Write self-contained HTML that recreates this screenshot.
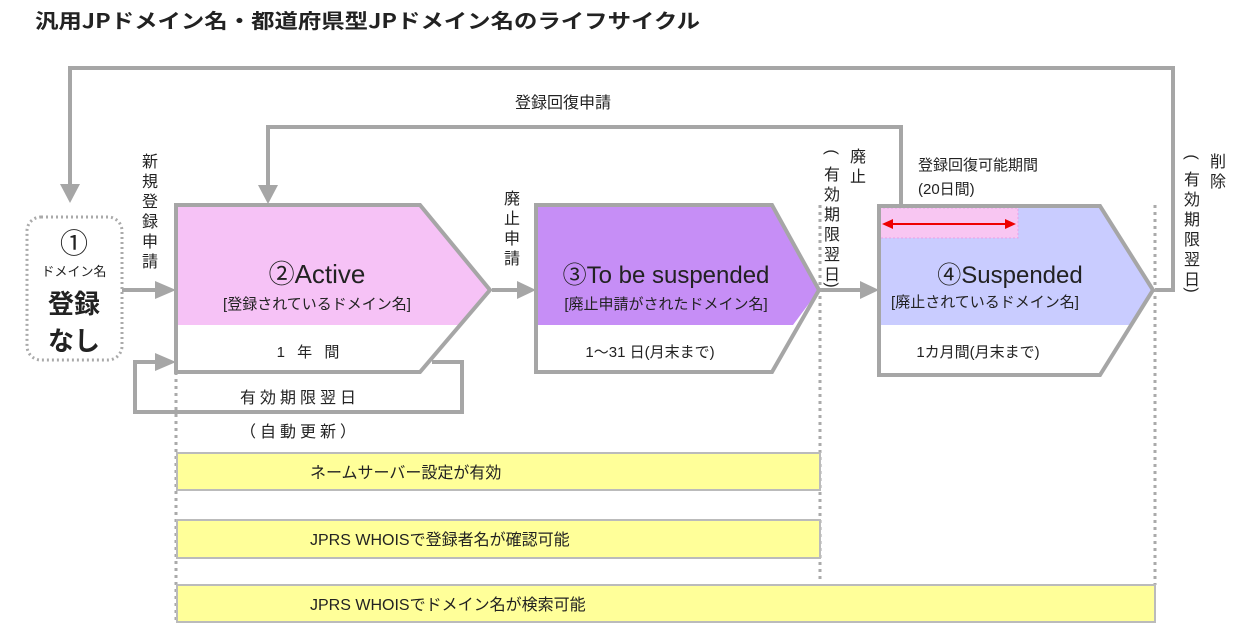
<!DOCTYPE html>
<html><head><meta charset="utf-8"><style>
html,body{margin:0;padding:0;background:#fff;}
svg{display:block;}
text{font-family:"Liberation Sans","Noto Sans CJK JP",sans-serif;fill:#222;}
</style></head><body>
<svg width="1247" height="631" viewBox="0 0 1247 631" xmlns="http://www.w3.org/2000/svg">
<text x="35" y="28" font-size="20" font-weight="bold" textLength="665" lengthAdjust="spacingAndGlyphs" style="font-family:'Noto Sans CJK JP',sans-serif">汎用JPドメイン名・都道府県型JPドメイン名のライフサイクル</text>

<g stroke="#a6a6a6" stroke-width="4" fill="none">
<path d="M1155,290 L1173,290 L1173,68 L70,68 L70,187"/>
<path d="M901,205 L901,127 L268,127 L268,192"/>
<path d="M432,362 L462,362 L462,412 L135,412 L135,362 L165,362"/>
<path d="M122,290 L165,290"/>
<path d="M492,290 L525,290"/>
<path d="M820,290 L868,290"/>
</g>
<g fill="#a6a6a6">
<path d="M60,184 L80,184 L70,203 z"/>
<path d="M258,185 L278,185 L268,204 z"/>
<path d="M155,281 L176,290 L155,299 z"/>
<path d="M155,353 L176,362 L155,371 z"/>
<path d="M517,281 L536,290 L517,299 z"/>
<path d="M860,281 L879,290 L860,299 z"/>
</g>

<rect x="27" y="217" width="95" height="143" rx="14" fill="#fff" stroke="#aaa" stroke-width="3" stroke-dasharray="2,3"/>
<text x="74" y="253" font-size="28" text-anchor="middle">①</text>
<text x="74" y="276" font-size="13" text-anchor="middle">ドメイン名</text>
<text x="74" y="313" font-size="26" font-weight="bold" text-anchor="middle">登録</text>
<text x="74" y="350" font-size="26" font-weight="bold" text-anchor="middle">なし</text>

<g stroke="#aaa" stroke-width="3" stroke-dasharray="3,4">
<path d="M176,372 L176,622"/>
<path d="M820,205 L820,580"/>
<path d="M1155,205 L1155,585"/>
</g>

<path d="M176,205 L420,205 L490,290 L460,325 L176,325 z" fill="#f6c2f6"/>
<path d="M176,205 L420,205 L490,290 L420,372 L176,372 z" fill="none" stroke="#a6a6a6" stroke-width="4"/>
<text x="317" y="283" font-size="26" text-anchor="middle">②Active</text>
<text x="317" y="309" font-size="15" text-anchor="middle">[登録されているドメイン名]</text>
<text x="310" y="357" font-size="15" text-anchor="middle" letter-spacing="4">1 年 間</text>
<text x="300" y="403" font-size="16" text-anchor="middle" letter-spacing="4">有効期限翌日</text>
<text x="300" y="437" font-size="16" text-anchor="middle" letter-spacing="4">（自動更新）</text>

<path d="M536,205 L772,205 L819,290 L793,325 L536,325 z" fill="#c68ef6"/>
<path d="M536,205 L772,205 L819,290 L772,372 L536,372 z" fill="none" stroke="#a6a6a6" stroke-width="4"/>
<text x="666" y="283" font-size="24" text-anchor="middle">③To be suspended</text>
<text x="666" y="309" font-size="15" text-anchor="middle">[廃止申請がされたドメイン名]</text>
<text x="650" y="357" font-size="15" text-anchor="middle">1〜31 日(月末まで)</text>

<path d="M879,206 L1100,206 L1153,290 L1132,325 L879,325 z" fill="#c9ccff"/>
<rect x="879" y="208" width="139" height="30" fill="#f8c6f2" stroke="#e8a0e8" stroke-width="1" stroke-dasharray="2,2"/>
<path d="M879,206 L1100,206 L1153,290 L1100,375 L879,375 z" fill="none" stroke="#a6a6a6" stroke-width="4"/>
<path d="M890,224 L1008,224" stroke="#e00" stroke-width="2"/>
<path d="M882,224 L893,219 L893,229 z M1016,224 L1005,219 L1005,229 z" fill="#e00"/>
<text x="1010" y="283" font-size="24" text-anchor="middle">④Suspended</text>
<text x="985" y="307" font-size="15" text-anchor="middle">[廃止されているドメイン名]</text>
<text x="978" y="357" font-size="15" text-anchor="middle">1カ月間(月末まで)</text>

<text x="515" y="108" font-size="16">登録回復申請</text>
<text x="918" y="170" font-size="15">登録回復可能期間</text>
<text x="918" y="194" font-size="15">(20日間)</text>
<g font-size="16" text-anchor="middle">
<text x="150" y="167">新</text><text x="150" y="187">規</text><text x="150" y="207">登</text><text x="150" y="227">録</text><text x="150" y="247">申</text><text x="150" y="267">請</text>
<text x="512" y="204">廃</text><text x="512" y="224">止</text><text x="512" y="244">申</text><text x="512" y="264">請</text>
<text x="858" y="162">廃</text><text x="858" y="182">止</text>
<text x="832" y="157" transform="rotate(90 832 152)">(</text>
<text x="832" y="180">有</text><text x="832" y="200">効</text><text x="832" y="220">期</text><text x="832" y="240">限</text><text x="832" y="260">翌</text><text x="832" y="280">日</text>
<text x="832" y="290" transform="rotate(90 832 285)">)</text>
<text x="1218" y="167">削</text><text x="1218" y="187">除</text>
<text x="1192" y="162" transform="rotate(90 1192 157)">(</text>
<text x="1192" y="185">有</text><text x="1192" y="205">効</text><text x="1192" y="225">期</text><text x="1192" y="245">限</text><text x="1192" y="265">翌</text><text x="1192" y="285">日</text>
<text x="1192" y="295" transform="rotate(90 1192 290)">)</text>
</g>

<g fill="#ffff99" stroke="#bbb" stroke-width="2">
<rect x="177" y="453" width="643" height="37"/>
<rect x="177" y="520" width="643" height="38"/>
<rect x="177" y="585" width="978" height="37"/>
</g>
<text x="310" y="478" font-size="16">ネームサーバー設定が有効</text>
<text x="310" y="545" font-size="16">JPRS WHOISで登録者名が確認可能</text>
<text x="310" y="610" font-size="16">JPRS WHOISでドメイン名が検索可能</text>
</svg>
</body></html>
